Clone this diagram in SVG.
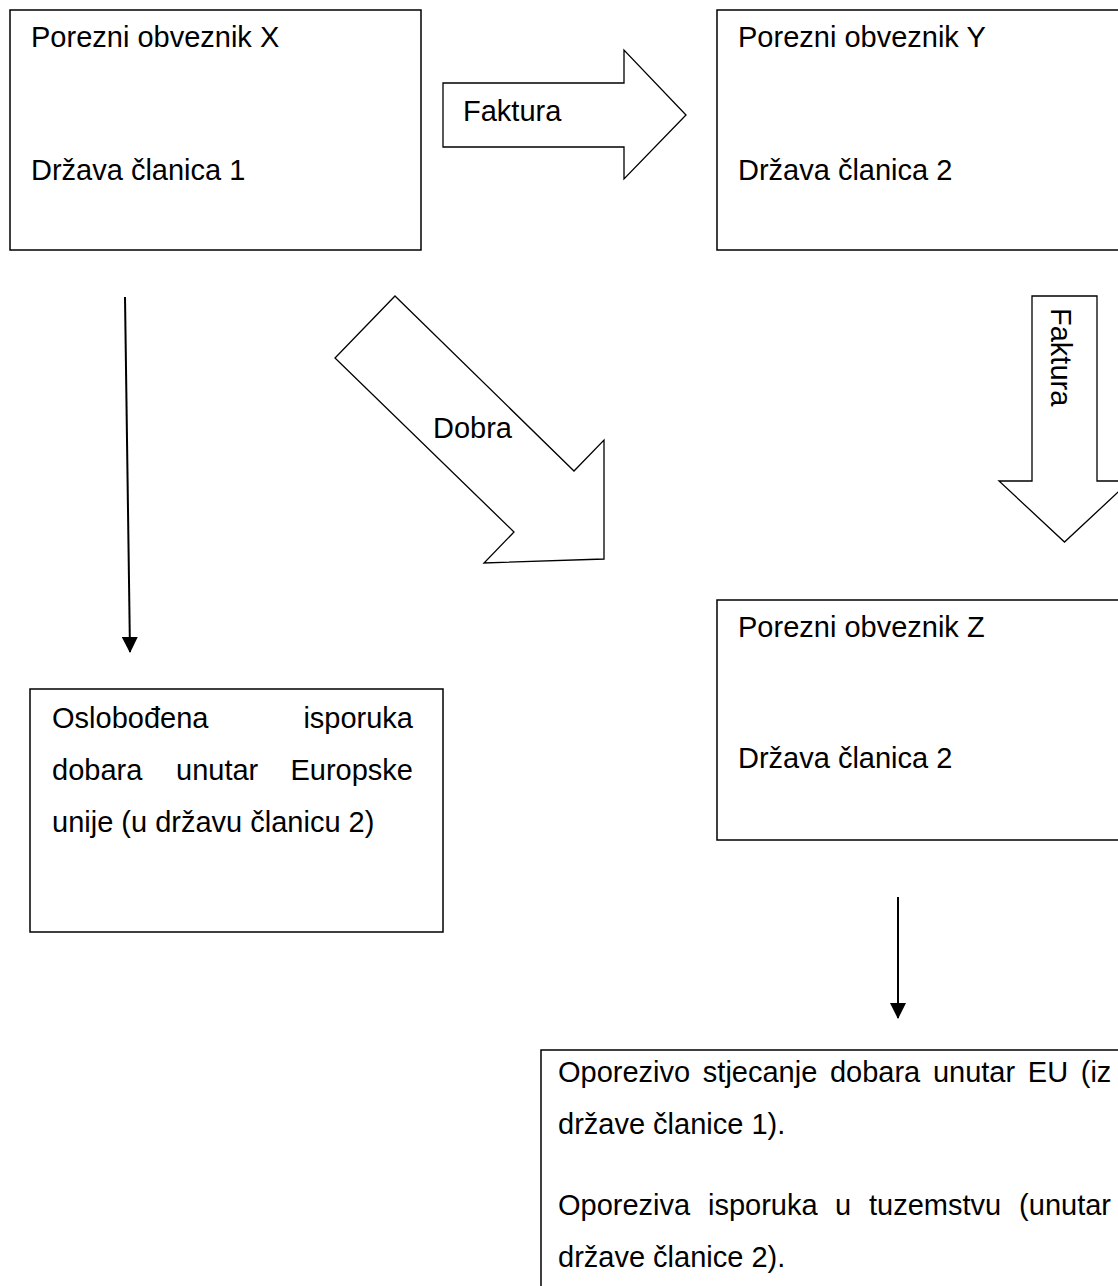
<svg xmlns="http://www.w3.org/2000/svg" width="1118" height="1286" viewBox="0 0 1118 1286">
<defs>
<style>
.box{fill:#fff;stroke:#000;stroke-width:1.5}
.blk{fill:#fff;stroke:#000;stroke-width:1.3;stroke-linejoin:miter}
.t{font-family:"Liberation Sans",Arial,sans-serif;font-size:29px;fill:#000}
.ln{stroke:#000;stroke-width:2;fill:none}
</style>
<marker id="ah" markerWidth="8" markerHeight="8" refX="7.5" refY="4" orient="auto" markerUnits="userSpaceOnUse" viewBox="0 0 8 8">
<path d="M0,0 L8,4 L0,8 Z" fill="#000"/>
</marker>
<marker id="ah2" viewBox="0 0 16 16" refX="15" refY="8" markerWidth="16" markerHeight="16" orient="auto" markerUnits="userSpaceOnUse">
<path d="M0,0 L16,8 L0,16 Z" fill="#000"/>
</marker>
</defs>
<rect width="1118" height="1286" fill="#fff"/>

<g id="node-x">
<rect class="box" x="10" y="10" width="411" height="240"/>
<text class="t" x="31" y="47">Porezni obveznik X</text>
<text class="t" x="31" y="180">Država članica 1</text>
</g>

<g id="node-y">
<rect class="box" x="717" y="10" width="420" height="240"/>
<text class="t" x="738" y="47">Porezni obveznik Y</text>
<text class="t" x="738" y="180">Država članica 2</text>
</g>

<g id="node-z">
<rect class="box" x="717" y="600" width="420" height="240"/>
<text class="t" x="738" y="637">Porezni obveznik Z</text>
<text class="t" x="738" y="768">Država članica 2</text>
</g>

<g id="node-exempt">
<rect class="box" x="30" y="689" width="413" height="243"/>
<text class="t" x="52" y="728">Oslobođena</text>
<text class="t" x="413" y="728" text-anchor="end">isporuka</text>
<text class="t" x="52" y="780">dobara</text>
<text class="t" x="176" y="780">unutar</text>
<text class="t" x="413" y="780" text-anchor="end">Europske</text>
<text class="t" x="52" y="832">unije (u državu članicu 2)</text>
</g>

<g id="node-taxable">
<rect class="box" x="541" y="1050" width="600" height="260"/>
<text class="t" x="558" y="1082" word-spacing="4.6">Oporezivo stjecanje dobara unutar EU (iz</text>
<text class="t" x="558" y="1134">države članice 1).</text>
<text class="t" x="558" y="1215">Oporeziva</text>
<text class="t" x="708" y="1215">isporuka</text>
<text class="t" x="835" y="1215">u</text>
<text class="t" x="869" y="1215">tuzemstvu</text>
<text class="t" x="1111" y="1215" text-anchor="end">(unutar</text>
<text class="t" x="558" y="1267">države članice 2).</text>
</g>

<g id="connectors">
<g id="arrow-faktura-xy">
<polygon class="blk" points="443,83 624,83 624,50 686,115 624,179 624,147 443,147"/>
<text class="t" x="463" y="121">Faktura</text>
</g>
<g id="arrow-dobra">
<polygon class="blk" points="395,296 574,471 604,440 604,559 484,563 514,532 335,358"/>
<text class="t" x="433" y="438">Dobra</text>
</g>
<g id="arrow-faktura-yz">
<polygon class="blk" points="1032,296 1097,296 1097,481 1130,481 1064.5,542 999,481 1032,481"/>
<text class="t" transform="translate(1051,308) rotate(90)">Faktura</text>
</g>
<line class="ln" x1="125" y1="297" x2="130" y2="652" marker-end="url(#ah2)"/>
<line class="ln" x1="898" y1="897" x2="898" y2="1018" marker-end="url(#ah2)"/>
</g>
</svg>
